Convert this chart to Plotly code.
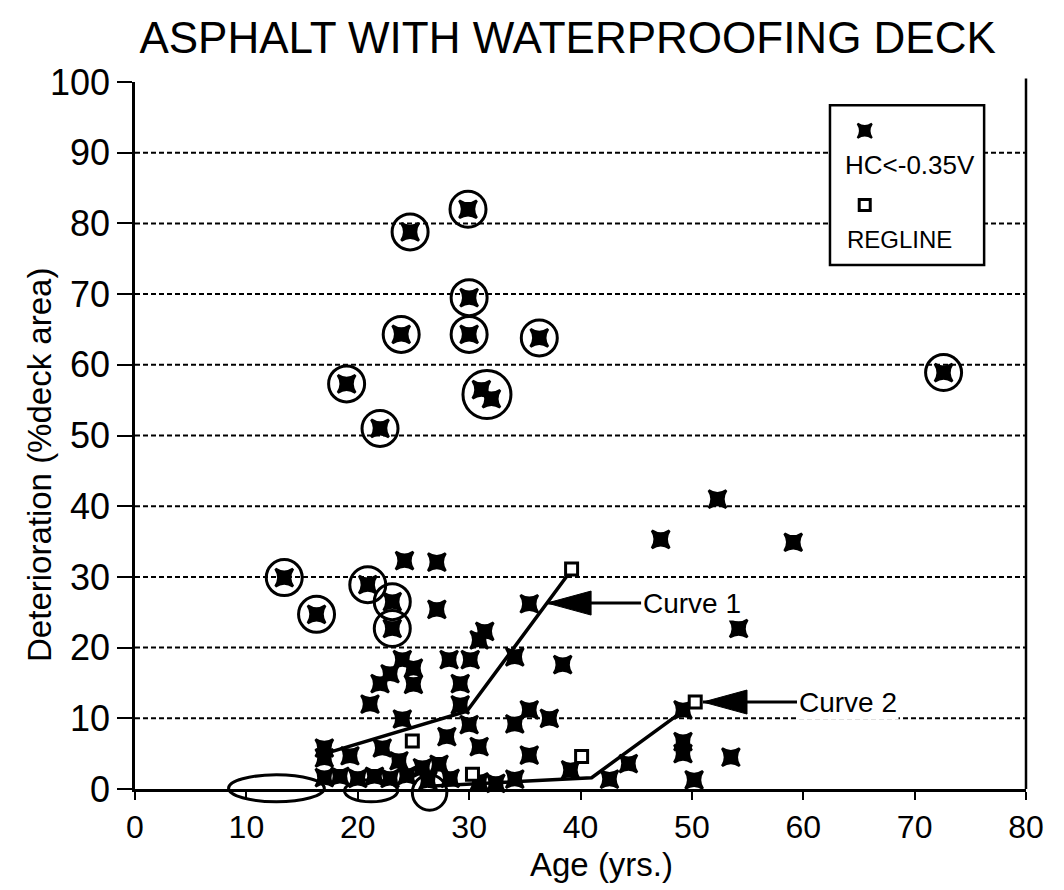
import plotly.graph_objects as go

# HC<-0.35V readings (age in years, deterioration % deck area)
hc_x = [13.4, 16.3, 20.9, 23.1, 23.1, 19.0, 22.0, 24.7, 29.9, 30.0, 23.9, 30.0, 36.3, 31.1, 32.0, 72.6, 67.7,
        47.2, 52.3, 59.1, 54.2, 38.4, 35.4, 27.1, 24.2, 27.1, 31.4, 30.9, 34.1, 24.0, 28.2, 30.1, 22.9, 25.0,
        25.0, 22.0, 29.2, 21.1, 29.2, 35.4, 37.2, 34.1, 28.0, 30.0, 30.9, 35.4, 44.3, 39.1, 42.6, 34.1, 49.2,
        49.2, 49.2, 50.2, 53.5, 24.0, 17.0, 17.0, 19.3, 22.2, 30.9, 27.3, 25.8, 23.7,
        17.0, 18.4, 20.0, 21.5, 22.9, 24.4, 26.3, 28.3, 32.4,
        9.9, 11.3, 12.5, 14.1, 14.9, 17.7, 19.1, 20.4, 21.6, 22.8, 24.2, 26.1, 27.6, 28.9, 30.3, 31.6,
        40.3, 42.2, 44.1, 46.2, 47.1]
hc_y = [29.9, 24.7, 28.9, 26.5, 22.7, 57.3, 51.0, 78.8, 82.0, 69.5, 64.3, 64.3, 63.8, 56.5, 55.2, 58.9, -0.6,
        35.3, 41.0, 34.9, 22.7, 17.6, 26.2, 25.4, 32.3, 32.1, 22.3, 21.1, 18.7, 18.3, 18.3, 18.3, 16.3, 17.1,
        14.8, 14.9, 14.9, 12.0, 11.9, 11.2, 10.0, 9.2, 7.4, 9.1, 6.0, 4.8, 3.6, 2.7, 1.4, 1.4, 11.2,
        6.7, 5.0, 1.3, 4.5, 9.9, 5.8, 4.4, 4.7, 5.8, 1.0, 3.5, 3.0, 4.0,
        1.6, 1.8, 1.5, 1.8, 1.5, 1.9, 1.2, 1.5, 0.8,
        -0.4, -0.4, -0.4, -0.4, -0.4, -0.4, -0.4, -0.4, -0.4, -0.4, -0.4, -0.4, -0.4, -0.4, -0.4, -0.4,
        -0.6, -0.6, -0.6, -0.6, -0.6]

# circled readings
circ_x = [13.4, 16.3, 20.9, 23.1, 23.1, 19.0, 22.0, 24.7, 29.9, 30.0, 23.9, 30.0, 36.3, 72.6, 67.7]
circ_y = [29.9, 24.7, 28.9, 26.5, 22.7, 57.3, 51.0, 78.8, 82.0, 69.5, 64.3, 64.3, 63.8, 58.9, -0.6]
pair_x = [31.6]
pair_y = [55.8]

# circled groups on the zero line: x from, x to, y from, y to
group_x0 = [8.4, 18.8, 24.9]
group_x1 = [17.0, 23.6, 28.0]
group_y0 = [-1.8, -1.8, -3.0]
group_y1 = [2.0, 1.3, 2.0]

# regression lines
reg_x = [24.9, 30.3, 39.2, 40.1, 50.3]
reg_y = [6.8, 2.1, 31.1, 4.6, 12.3]
curve1_x = [16.6, 29.8, 39.2]
curve1_y = [4.8, 11.0, 31.0]
curve2_x = [26.3, 41.0, 50.3]
curve2_y = [0.4, 1.6, 12.3]

# labels pointing at the two curves
label_text = ["Curve 1", "Curve 2"]
label_x = [37.0, 51.0]
label_y = [26.3, 12.3]

grid_vals = [10, 20, 30, 40, 50, 60, 70, 80, 90]
FONT = "Liberation Sans, Arial, sans-serif"

fig = go.Figure()

fig.add_trace(go.Scatter(x=curve1_x, y=curve1_y, mode="lines",
                         line=dict(color="black", width=3.5), showlegend=False))
fig.add_trace(go.Scatter(x=curve2_x, y=curve2_y, mode="lines",
                         line=dict(color="black", width=3.5), showlegend=False))
fig.add_trace(go.Scatter(x=hc_x, y=hc_y, mode="markers", cliponaxis=False,
                         marker=dict(symbol="star-square", size=16, color="black",
                                     line=dict(color="black", width=2.5)),
                         showlegend=False))
fig.add_trace(go.Scatter(x=reg_x, y=reg_y, mode="markers", cliponaxis=False,
                         marker=dict(symbol="square", size=12, color="white",
                                     line=dict(color="black", width=3)),
                         showlegend=False))
fig.add_trace(go.Scatter(x=circ_x, y=circ_y, mode="markers", cliponaxis=False,
                         marker=dict(symbol="circle-open", size=36, color="black",
                                     line=dict(color="black", width=3)),
                         showlegend=False))
fig.add_trace(go.Scatter(x=pair_x, y=pair_y, mode="markers", cliponaxis=False,
                         marker=dict(symbol="circle-open", size=48, color="black",
                                     line=dict(color="black", width=3)),
                         showlegend=False))

# legend samples on an overlay axis
fig.add_trace(go.Scatter(x=[0.819], y=[0.931], mode="markers", xaxis="x2", yaxis="y2",
                         marker=dict(symbol="star-square", size=13, color="black",
                                     line=dict(color="black", width=2)),
                         showlegend=False))
fig.add_trace(go.Scatter(x=[0.819], y=[0.826], mode="markers", xaxis="x2", yaxis="y2",
                         marker=dict(symbol="square", size=11, color="white",
                                     line=dict(color="black", width=3)),
                         showlegend=False))

shapes = []
for v in grid_vals:
    shapes.append(dict(type="line", xref="paper", yref="y", x0=0, x1=1, y0=v, y1=v,
                       line=dict(color="black", width=2, dash="5px,3px"), layer="below"))
shapes.append(dict(type="line", xref="paper", yref="paper", x0=1, x1=1, y0=0, y1=1.005,
                   line=dict(color="black", width=2.5)))
shapes.append(dict(type="rect", xref="paper", yref="paper", x0=0.780, x1=0.953, y0=0.741, y1=0.967,
                   line=dict(color="black", width=2.5), fillcolor="white", layer="below"))
for a, b, c, d in zip(group_x0, group_x1, group_y0, group_y1):
    shapes.append(dict(type="circle", xref="x", yref="paper", x0=a, x1=b, y0=c / 100, y1=d / 100,
                       line=dict(color="black", width=3)))
# long filled arrow heads
for lx, ly in zip(label_x, label_y):
    shapes.append(dict(type="path", xref="x", yref="y", xsizemode="pixel", ysizemode="pixel",
                       xanchor=lx, yanchor=ly, path="M0,0 L44,12 L44,-12 Z",
                       fillcolor="black", line=dict(color="black", width=1)))

annotations = []
for txt, lx, ly in zip(label_text, label_x, label_y):
    annotations.append(dict(x=lx, y=ly, xref="x", yref="y", text=txt, showarrow=True,
                            ax=94, ay=0, xanchor="left", yanchor="middle", arrowhead=0,
                            arrowwidth=3, arrowcolor="black", bgcolor="white",
                            font=dict(family=FONT, size=28, color="black")))
annotations += [
    dict(x=0.870, y=0.883, xref="paper", yref="paper", text="HC&lt;-0.35V", showarrow=False,
         xanchor="center", yanchor="middle", font=dict(family=FONT, size=26, color="black")),
    dict(x=0.858, y=0.777, xref="paper", yref="paper", text="REGLINE", showarrow=False,
         xanchor="center", yanchor="middle", font=dict(family=FONT, size=24, color="black")),
    dict(x=-0.108, y=0.458, xref="paper", yref="paper", text="Deterioration (%deck area)",
         textangle=-90, showarrow=False, xanchor="center", yanchor="middle",
         font=dict(family=FONT, size=33, color="black")),
    dict(x=0.524, y=-0.107, xref="paper", yref="paper", text="Age (yrs.)",
         showarrow=False, xanchor="center", yanchor="middle",
         font=dict(family=FONT, size=33, color="black")),
]

fig.update_layout(
    width=1048, height=882,
    paper_bgcolor="white", plot_bgcolor="white",
    margin=dict(l=127, r=24, t=74, b=101),
    title=dict(text="ASPHALT WITH WATERPROOFING DECK", x=0.534, xref="container", xanchor="center",
               y=0.966, yref="container", yanchor="middle",
               font=dict(family=FONT, size=44, color="black")),
    xaxis=dict(range=[0, 80], tickvals=[0, 10, 20, 30, 40, 50, 60, 70, 80],
               showline=True, linecolor="black", linewidth=2.5, ticks="outside",
               ticklen=8, tickwidth=2, tickcolor="black", showgrid=False, zeroline=False,
               tickfont=dict(family=FONT, size=32, color="black")),
    yaxis=dict(range=[0, 100], tickvals=[0, 10, 20, 30, 40, 50, 60, 70, 80, 90, 100],
               showline=True, linecolor="black", linewidth=2.5, ticks="outside",
               ticklen=15, tickwidth=2, tickcolor="black", showgrid=False, zeroline=False,
               tickfont=dict(family=FONT, size=36, color="black")),
    xaxis2=dict(range=[0, 1], overlaying="x", visible=False),
    yaxis2=dict(range=[0, 1], overlaying="y", visible=False),
    shapes=shapes,
    annotations=annotations,
    showlegend=False,
)

fig.write_html("out.html")
